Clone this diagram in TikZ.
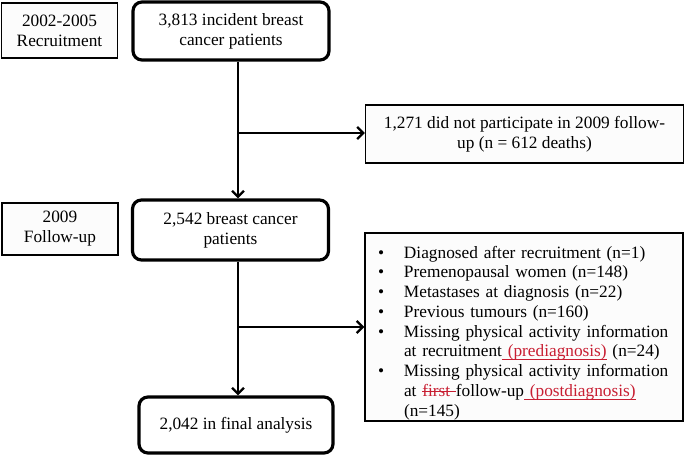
\documentclass[tikz,border=0pt]{standalone}
\usepackage{fontspec}
\setmainfont{Liberation Serif}
\usepackage{xcolor}
\usepackage{tikz}
\usetikzlibrary{arrows.meta}
\definecolor{editred}{RGB}{200,30,50}
\newcommand{\bul}{\makebox[26pt][l]{\textbullet}}
\newcommand{\ind}{\hspace*{26pt}}
\newcommand{\edunder}[1]{{\color{editred}\setbox0\hbox{#1}\rlap{\rule[-3pt]{\wd0}{0.9pt}}\box0}}
\newcommand{\edstrike}[1]{{\color{editred}\setbox0\hbox{#1}\rlap{\rule[4.5pt]{\wd0}{0.9pt}}\box0}}

\begin{document}
\begin{tikzpicture}[x=1pt,y=-1pt,font=\fontsize{17.3}{20}\selectfont,
  stage/.style={draw,line width=1.3pt,fill=black!1,align=center,inner sep=0pt},
  cohort/.style={draw,line width=3.2pt,rounded corners=9pt,fill=white,align=center,inner sep=0pt},
  note/.style={draw,line width=1.4pt,fill=black!1,align=left,inner xsep=13pt,inner ysep=0pt},
  arr/.style={line width=2.3pt,-{Straight Barb[length=6pt,width=12pt,line width=2.3pt]}}]
 \useasboundingbox (0,0) rectangle (685,455);
 % stages on the left
 \node[stage,minimum width=116pt,minimum height=55pt] (rec) at (59.5,30.5) {2002-2005\\Recruitment};
 \node[stage,minimum width=116pt,minimum height=52pt] (fu) at (60,229) {2009\\Follow-up};
 % cohort boxes
 \node[cohort,minimum width=196pt,minimum height=58pt] (pat) at (231,31) {3,813 incident breast\\cancer patients};
 \node[cohort,minimum width=196pt,minimum height=60pt] (bc) at (230.5,230) {2,542 breast cancer\\patients};
 \node[cohort,minimum width=194pt,minimum height=56pt] (fin) at (236,425) {2,042 in final analysis};
 % exclusions
 \node[note,align=center,minimum width=318pt,minimum height=58pt] (nopart) at (524.5,134) {1,271 did not participate in 2009 follow-\\up (n = 612 deaths)};
 \node[note,text width=292pt,minimum height=188pt,font=\fontsize{17.3}{19.75}\selectfont] (excl) at (524,327) {%
  \rule{0pt}{24pt}\bul Diagnosed after recruitment (n=1)\\
  \bul Premenopausal women (n=148)\\
  \bul Metastases at diagnosis (n=22)\\
  \bul Previous tumours (n=160)\\
  \bul Missing physical activity information\\
  \ind at recruitment\edunder{\ (prediagnosis)} (n=24)\\
  \bul Missing physical activity information\\
  \ind at \edstrike{first\ }follow-up\edunder{\ (postdiagnosis)}\\
  \ind (n=145)};
 % flow
 \coordinate (j1) at (238,133);
 \coordinate (j2) at (238,327);
 \draw[arr] (pat.south -| j1) -- (bc.north -| j1);
 \draw[arr] (j1) -- (nopart.west |- j1);
 \draw[arr] (bc.south -| j2) -- (fin.north -| j2);
 \draw[arr] (j2) -- (excl.west |- j2);
\end{tikzpicture}
\end{document}
